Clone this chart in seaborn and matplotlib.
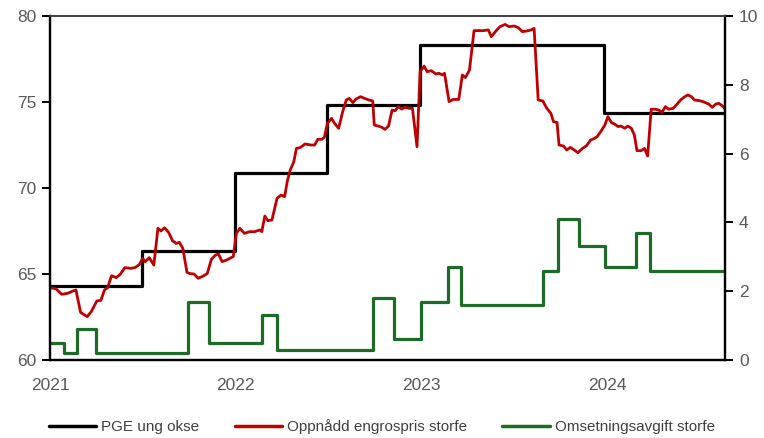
import matplotlib
matplotlib.use("Agg")
import matplotlib.pyplot as plt
import matplotlib.dates as mdates
from matplotlib.lines import Line2D
import pandas as pd
import seaborn as sns

# --- PGE ung okse (kr/kg), level from each change date ---
pge_dates = ["2021-01-01", "2021-06-30", "2021-12-30", "2022-06-30",
             "2022-12-28", "2023-12-26", "2024-08-19"]
pge_values = [64.3, 66.35, 70.85, 74.85, 78.3, 74.35, 74.35]

# --- Oppnådd engrospris storfe (kr/kg), weekly observations ---
price_dates = [
    "2021-01-03", "2021-01-13", "2021-01-24", "2021-02-05", "2021-02-15", "2021-02-21",
    "2021-03-02", "2021-03-15", "2021-03-23", "2021-04-03", "2021-04-11", "2021-04-18",
    "2021-04-24", "2021-05-02", "2021-05-11", "2021-05-19", "2021-05-28", "2021-06-08",
    "2021-06-17", "2021-06-26", "2021-07-02", "2021-07-07", "2021-07-15", "2021-07-24",
    "2021-08-01", "2021-08-07", "2021-08-14", "2021-08-22", "2021-08-30", "2021-09-06",
    "2021-09-12", "2021-09-19", "2021-09-27", "2021-10-02", "2021-10-11", "2021-10-19",
    "2021-10-29", "2021-11-06", "2021-11-14", "2021-11-22", "2021-11-28", "2021-12-05",
    "2021-12-14", "2021-12-20", "2021-12-27", "2022-01-02", "2022-01-09", "2022-01-18",
    "2022-01-28", "2022-02-07", "2022-02-17", "2022-02-21", "2022-02-27", "2022-03-05",
    "2022-03-13", "2022-03-23", "2022-03-31", "2022-04-07", "2022-04-12", "2022-04-18",
    "2022-04-25", "2022-04-30", "2022-05-08", "2022-05-17", "2022-05-28", "2022-06-05",
    "2022-06-11", "2022-06-19", "2022-06-24", "2022-06-30", "2022-07-08", "2022-07-14",
    "2022-07-22", "2022-07-30", "2022-08-06", "2022-08-12", "2022-08-19", "2022-08-25",
    "2022-09-03", "2022-09-11", "2022-09-19", "2022-09-27", "2022-09-30", "2022-10-08",
    "2022-10-15", "2022-10-21", "2022-10-28", "2022-11-04", "2022-11-10", "2022-11-16",
    "2022-11-23", "2022-11-29", "2022-12-08", "2022-12-14", "2022-12-23", "2022-12-29",
    "2023-01-06", "2023-01-12", "2023-01-20", "2023-01-29", "2023-02-04", "2023-02-11",
    "2023-02-15", "2023-02-24", "2023-03-04", "2023-03-15", "2023-03-22", "2023-03-28",
    "2023-04-05", "2023-04-14", "2023-04-24", "2023-05-02", "2023-05-12", "2023-05-18",
    "2023-05-27", "2023-06-04", "2023-06-14", "2023-06-22", "2023-07-02", "2023-07-10",
    "2023-07-18", "2023-07-27", "2023-08-04", "2023-08-10", "2023-08-18", "2023-08-27",
    "2023-09-04", "2023-09-12", "2023-09-17", "2023-09-24", "2023-09-28", "2023-10-07",
    "2023-10-13", "2023-10-20", "2023-10-28", "2023-11-04", "2023-11-13", "2023-11-21",
    "2023-11-29", "2023-12-07", "2023-12-12", "2023-12-20", "2023-12-27", "2024-01-02",
    "2024-01-09", "2024-01-15", "2024-01-22", "2024-01-28", "2024-02-04", "2024-02-10",
    "2024-02-17", "2024-02-23", "2024-02-28", "2024-03-07", "2024-03-14", "2024-03-20",
    "2024-03-27", "2024-04-04", "2024-04-11", "2024-04-17", "2024-04-24", "2024-04-30",
    "2024-05-09", "2024-05-17", "2024-05-25", "2024-06-01", "2024-06-07", "2024-06-14",
    "2024-06-20", "2024-06-29", "2024-07-07", "2024-07-18", "2024-07-25", "2024-08-01",
    "2024-08-07", "2024-08-14", "2024-08-18",
]
price_values = [
    64.20, 64.13, 63.82, 63.88, 64.01, 64.07,
    62.77, 62.52, 62.81, 63.43, 63.47, 64.07,
    64.20, 64.90, 64.79, 64.98, 65.37, 65.33,
    65.37, 65.56, 65.91, 65.71, 65.95, 65.52,
    67.66, 67.50, 67.69, 67.42, 66.92, 66.78,
    66.84, 66.49, 65.10, 65.03, 65.00, 64.75,
    64.88, 65.03, 65.85, 66.10, 66.16, 65.72,
    65.81, 65.91, 66.01, 67.36, 67.66, 67.36,
    67.46, 67.46, 67.56, 67.46, 68.37, 68.10,
    68.14, 69.40, 69.59, 69.50, 70.37, 71.05,
    71.53, 72.30, 72.36, 72.56, 72.50, 72.50,
    72.83, 72.83, 72.95, 73.76, 74.05, 73.76,
    73.47, 74.44, 75.12, 75.21, 74.96, 75.17,
    75.31, 75.21, 75.12, 75.06, 73.66, 73.60,
    73.53, 73.41, 73.60, 74.53, 74.49, 74.73,
    74.59, 74.69, 74.63, 74.63, 72.40, 76.76,
    77.09, 76.76, 76.82, 76.63, 76.67, 76.57,
    76.67, 75.02, 75.15, 75.15, 76.57, 76.42,
    76.85, 79.15, 79.15, 79.15, 79.19, 78.80,
    79.13, 79.38, 79.51, 79.38, 79.42, 79.32,
    79.09, 79.13, 79.19, 79.28, 75.12, 75.06,
    74.63, 74.34, 73.86, 73.81, 72.50, 72.44,
    72.21, 72.36, 72.21, 72.05, 72.30, 72.46,
    72.79, 72.89, 72.99, 73.33, 73.66, 74.15,
    73.80, 73.72, 73.57, 73.60, 73.47, 73.60,
    73.47, 73.08, 72.17, 72.17, 72.30, 71.86,
    74.58, 74.58, 74.53, 74.40, 74.73, 74.58,
    74.63, 74.88, 75.15, 75.31, 75.41, 75.31,
    75.12, 75.08, 75.02, 74.88, 74.69, 74.88,
    74.92, 74.77, 74.63,
]

# --- Omsetningsavgift storfe (kr/kg), level from each change date ---
fee_dates = ["2021-01-01", "2021-01-28", "2021-02-24", "2021-04-01", "2021-09-30",
             "2021-11-10", "2022-02-21", "2022-03-23", "2022-09-27", "2022-11-08",
             "2022-12-30", "2023-02-21", "2023-03-20", "2023-08-28", "2023-09-25",
             "2023-11-06", "2023-12-27", "2024-02-26", "2024-03-25", "2024-08-19"]
fee_values = [0.5, 0.2, 0.9, 0.2, 1.7,
              0.5, 1.3, 0.3, 1.8, 0.6,
              1.7, 2.7, 1.6, 2.6, 4.1,
              3.3, 2.7, 3.7, 2.6, 2.6]

series_labels = ["PGE ung okse", "Oppnådd engrospris storfe", "Omsetningsavgift storfe"]
series_colors = ["#000000", "#C00000", "#1E6B28"]
year_ticks = ["2021-01-01", "2022-01-01", "2023-01-01", "2024-01-01"]

sns.set_style("ticks")
plt.rcParams["font.family"] = ["Liberation Sans", "DejaVu Sans"]

pge = pd.DataFrame({"date": pd.to_datetime(pge_dates), "value": pge_values})
price = pd.DataFrame({"date": pd.to_datetime(price_dates), "value": price_values})
fee = pd.DataFrame({"date": pd.to_datetime(fee_dates), "value": fee_values})

fig = plt.figure(figsize=(7.64, 4.38), dpi=100)
ax = fig.add_axes([50 / 764, 1 - 360 / 438, 675 / 764, 344 / 438])
ax2 = ax.twinx()

sns.lineplot(data=pge, x="date", y="value", ax=ax, color=series_colors[0],
             linewidth=2.3, drawstyle="steps-post", sort=False)
sns.lineplot(data=price, x="date", y="value", ax=ax, color=series_colors[1],
             linewidth=2.0, sort=False)
sns.lineplot(data=fee, x="date", y="value", ax=ax2, color=series_colors[2],
             linewidth=2.3, drawstyle="steps-post", sort=False)

ax.set_xlim(pd.Timestamp("2021-01-01"), pd.Timestamp("2024-08-19"))
ax.set_ylim(60, 80)
ax2.set_ylim(0, 10)
ax.set_yticks([60, 65, 70, 75, 80])
ax2.set_yticks([0, 2, 4, 6, 8, 10])
ax.set_xticks(pd.to_datetime(year_ticks))
ax.xaxis.set_major_formatter(mdates.DateFormatter("%Y"))

for a in (ax, ax2):
    a.set_xlabel("")
    a.set_ylabel("")
    for side in ("left", "right", "bottom"):
        a.spines[side].set_color("black")
        a.spines[side].set_linewidth(1.6)
    a.spines["top"].set_color("#404040")
    a.spines["top"].set_linewidth(1.2)

label_color = "#595959"
ax.tick_params(axis="y", direction="out", length=6, width=1.4, color="black",
               labelsize=12.5, labelcolor=label_color, pad=4)
ax2.tick_params(axis="y", direction="out", length=6, width=1.4, color="black",
                labelsize=12.5, labelcolor=label_color, pad=4)
ax.tick_params(axis="x", length=0, labelsize=12.5, labelcolor=label_color, pad=13)

handles = [Line2D([0], [0], color=c, linewidth=2.5) for c in series_colors]
fig.legend(handles, series_labels, loc="center", bbox_to_anchor=(0.5, 1 - 427 / 438),
           ncol=3, frameon=False, fontsize=11, handlelength=3.1,
           handletextpad=0.33, columnspacing=2.3, labelcolor="#404040")

fig.savefig("out.png", dpi=100)
